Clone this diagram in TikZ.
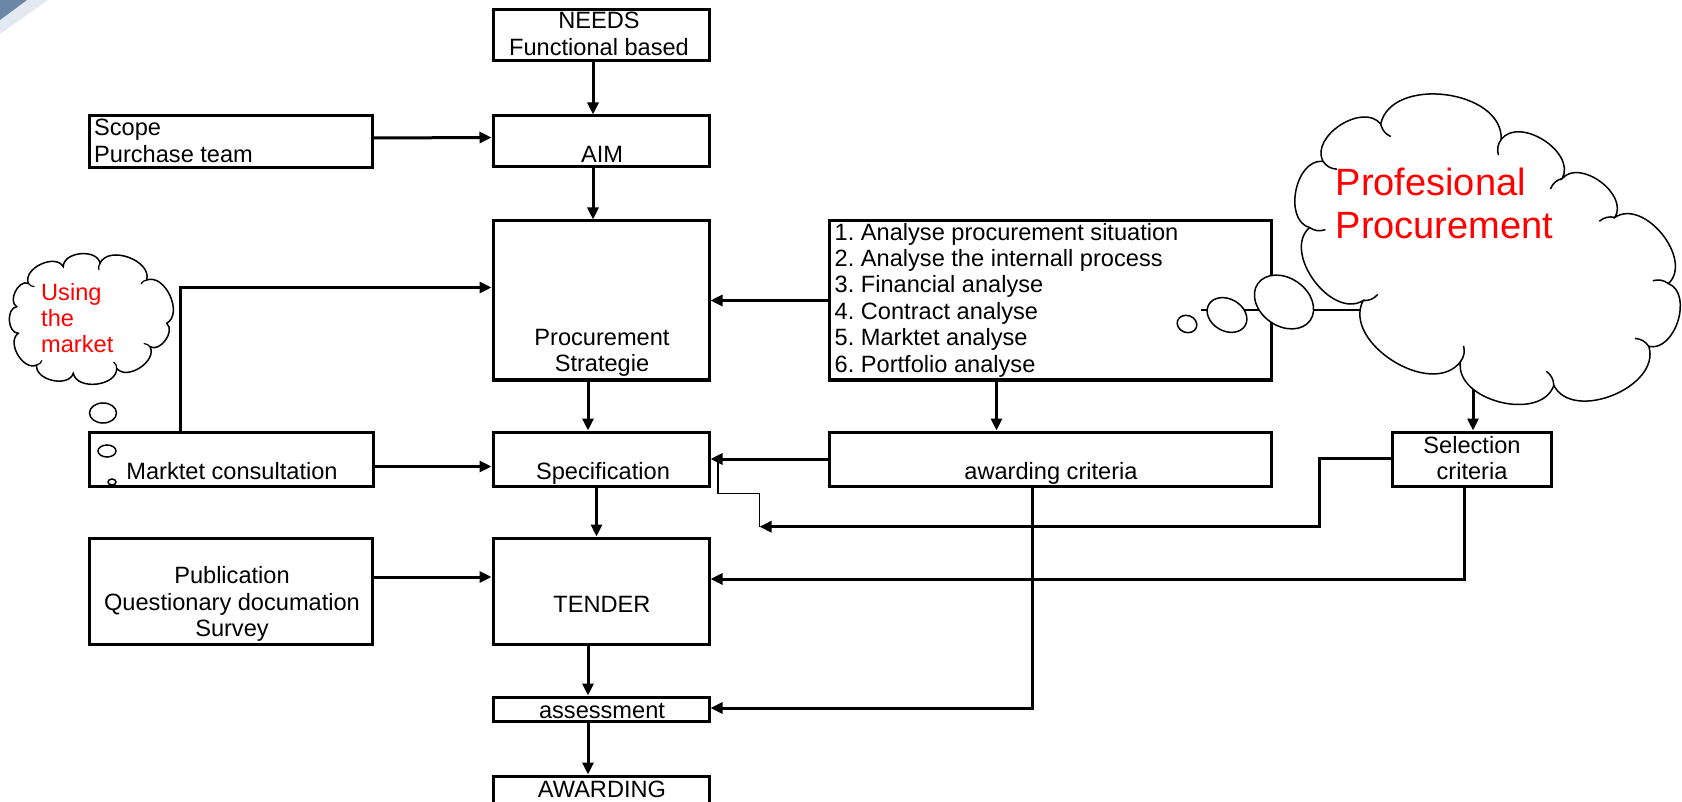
\documentclass[tikz,border=0pt]{standalone}
\usepackage{fontspec}
\setmainfont{Liberation Sans}
\usetikzlibrary{arrows.meta,shapes.symbols,shapes.geometric,calc}
\newcommand\bodyfs{\fontsize{23.6pt}{26.4pt}\selectfont\frenchspacing}
\newcommand\bigfs{\fontsize{38pt}{43pt}\selectfont}
\definecolor{wedge}{RGB}{108,134,168}
\definecolor{wedgelight}{RGB}{226,233,241}
\definecolor{cred}{RGB}{255,0,0}
\tikzset{
  box/.style={draw, line width=3pt, inner sep=0pt, rectangle},
  txt/.style={font=\bodyfs, inner sep=0pt, align=center},
  arr/.style={line width=3pt, -{Triangle[length=12pt,width=11pt]}},
  thinline/.style={line width=1.3pt},
  bub/.style={draw, line width=1.5pt, fill=white, ellipse, inner sep=0pt},
  cloudline/.style={draw, line width=1.5pt, fill=white},
  puff/.style={bend left=85, looseness=1.05},
  innerarc/.style={line width=1.5pt},
}
\begin{document}
\begin{tikzpicture}[x=1pt,y=-1pt]
\useasboundingbox (0,0) rectangle (1682,802);
\clip (0,0) rectangle (1682,802);
% corner wedge
\fill[wedgelight] (0,0) -- (48,0) -- (0,34) -- cycle;
\fill[wedge] (0,0) -- (27,0) -- (0,20) -- cycle;

% boxes
\node[box, minimum width=216pt, minimum height=51pt] (needs) at (601,35.5) {};
\node[box, minimum width=283pt, minimum height=52pt] (scope) at (230.5,142) {};
\node[box, minimum width=216pt, minimum height=51pt] (aim) at (601,141.5) {};
\node[box, minimum width=216pt, minimum height=159pt] (ps) at (601,300.5) {};
\node[box, minimum width=442pt, minimum height=159pt] (ana) at (1050,300.5) {};
\node[box, minimum width=284pt, minimum height=54pt] (mc) at (231,459) {};
\node[box, minimum width=216pt, minimum height=54pt] (spec) at (601,459) {};
\node[box, minimum width=442pt, minimum height=54pt] (awd) at (1050,459) {};
\node[box, minimum width=159pt, minimum height=54pt] (sel) at (1471.5,459) {};
\node[box, minimum width=283pt, minimum height=106pt] (pub) at (230.5,591) {};
\node[box, minimum width=216pt, minimum height=106pt] (tender) at (601,591) {};
\node[box, minimum width=216pt, minimum height=24pt] (assess) at (601,709) {};
\node[box, minimum width=216pt, minimum height=34pt] (award) at (601,793) {};

% texts
\node[txt] (tneeds) at (599,34) {NEEDS\\Functional based};
\node[txt, anchor=west, align=left] (tscope) at (94,141) {Scope\\Purchase team};
\node[txt, anchor=mid] (taim) at (602,160) {AIM};
\node[txt] (tps) at (602,353) {Procurement\\Strategie};
\node[txt, anchor=west, align=left] (tana) at (834.5,300) {1. Analyse procurement situation\\2. Analyse the internall process\\3. Financial analyse\\4. Contract analyse\\5. Marktet analyse\\6. Portfolio analyse};
\node[txt, anchor=mid] (tmc) at (232,477) {Marktet consultation};
\node[txt, anchor=mid] (tspec) at (603,477) {Specification};
\node[txt, anchor=mid] (tawd) at (1051,477) {awarding criteria};
\node[txt] (tsel) at (1472,458) {Selection\\criteria};
\node[txt] (tpub) at (232,604) {Publication\\Questionary documation\\Survey};
\node[txt, anchor=mid] (ttender) at (602,610) {TENDER};
\node[txt, anchor=mid] (tassess) at (602,716) {assessment};
\node[txt, anchor=mid] (taward) at (602,795) {AWARDING};

% connectors
\draw[arr] ([xshift=-8pt]needs.south) -- ([xshift=-8pt]aim.north);
\draw[arr] ([yshift=4pt]scope.east) -- ([yshift=4pt]aim.west);
\draw[arr] ([xshift=-8pt]aim.south) -- ([xshift=-8pt]ps.north);
\draw[arr] (ana.west) -- (ps.east);
\draw[arr] ([xshift=-51pt]mc.north) |- ([yshift=13pt]ps.west);
\draw[arr] ([yshift=-7.5pt]mc.east) -- ([yshift=-7.5pt]spec.west);
\draw[arr] ([xshift=-13pt]ps.south) -- ([xshift=-13pt]spec.north);
\draw[arr] ([xshift=-53.5pt]ana.south) -- ([xshift=-53.5pt]awd.north);
\draw[arr] (awd.west) -- (spec.east);
\coordinate (selin) at (759.5,526.7);
\draw[arr] ([yshift=1pt]sel.west) -- ++(-71.5,0) |- (selin);
\draw[thinline] ([xshift=7.5pt,yshift=-2pt]spec.east) -- ++(0,32.5) -| (selin);
\draw[arr] ([xshift=-7.5pt]sel.south) |- ([yshift=12pt]tender.east);
\draw[arr] ([xshift=-18pt]awd.south) |- ([yshift=1pt]assess.east);
\draw[arr] ([xshift=-4.5pt]spec.south) -- ([xshift=-4.5pt]tender.north);
\draw[arr] ([yshift=14pt]pub.east) -- ([yshift=14pt]tender.west);
\draw[arr] ([xshift=-13pt]tender.south) -- ([xshift=-13pt]assess.north);
\draw[arr] ([xshift=-13pt]assess.south) -- ([xshift=-13pt]award.north);

% professional procurement cloud and thought bubbles
\coordinate (bl) at (1201,310);
\draw[line width=2.5pt] (bl) -- (1400,310);
\coordinate (cloudout) at (1473,380);
\draw[arr] (cloudout) -- (cloudout |- sel.north);
\coordinate (pc) at (1482,250);
\path[cloudline] (1323,161.4) to[puff] (1380.7,124.1) to[puff] (1501.2,139.4)
  to[puff] (1562.3,178.4) to[puff] (1614.9,217.4) to[puff] (1668.5,283.6)
  to[puff] (1648.8,346.4) to[puff] (1553.8,385.4) to[puff] (1460.5,361.6)
  to[puff] (1363.1,300.6) to[puff] (1309.5,227.6) to[puff] (1323,161.4) -- cycle;
\foreach \vx/\vy in {1323/161.4,1380.7/124.1,1501.2/139.4,1562.3/178.4,1614.9/217.4,1668.5/283.6,1648.8/346.4,1553.8/385.4,1460.5/361.6,1363.1/300.6,1309.5/227.6}
  \draw[innerarc] (\vx,\vy) to[bend right=25] ($(\vx,\vy)!16pt!(pc)$);
\node[font=\bigfs, text=cred, anchor=west, align=left, inner sep=0pt] (tprof) at (1335.5,203.5) {Profesional\\Procurement};
\node[bub, minimum width=20pt, minimum height=17pt, rotate=-20] (b1) at (1187,324) {};
\node[bub, minimum width=42pt, minimum height=32pt, rotate=-30] (b2) at (1227,315) {};
\node[bub, minimum width=64pt, minimum height=48pt, rotate=-35] (b3) at (1284,302) {};

% using the market cloud and bubbles
\coordinate (mcc) at (92,318);
\path[cloudline] (28.3,283.3) to[puff] (63.3,266.7) to[puff] (100,263.3)
  to[puff] (146.7,280) to[puff] (166.7,323.3) to[puff] (150,346.7)
  to[puff] (116.7,368.3) to[puff] (73.3,373.3) to[puff] (36.7,365)
  to[puff] (18.3,333.3) to[puff] (16.7,306.7) to[puff] (28.3,283.3) -- cycle;
\foreach \vx/\vy in {28.3/283.3,100/263.3,146.7/280,150/346.7,116.7/368.3,36.7/365}
  \draw[line width=1.2pt] (\vx,\vy) to[bend right=25] ($(\vx,\vy)!7pt!(mcc)$);
\node[font=\bodyfs, text=cred, anchor=west, align=left, inner sep=0pt] (tmarket) at (41,318) {Using\\the\\market};
\node[bub, minimum width=27pt, minimum height=20pt] (m1) at (103,413) {};
\node[bub, minimum width=18pt, minimum height=12pt] (m2) at (107,451) {};
\node[bub, minimum width=8pt, minimum height=6pt] (m3) at (112,482) {};
\end{tikzpicture}
\end{document}
